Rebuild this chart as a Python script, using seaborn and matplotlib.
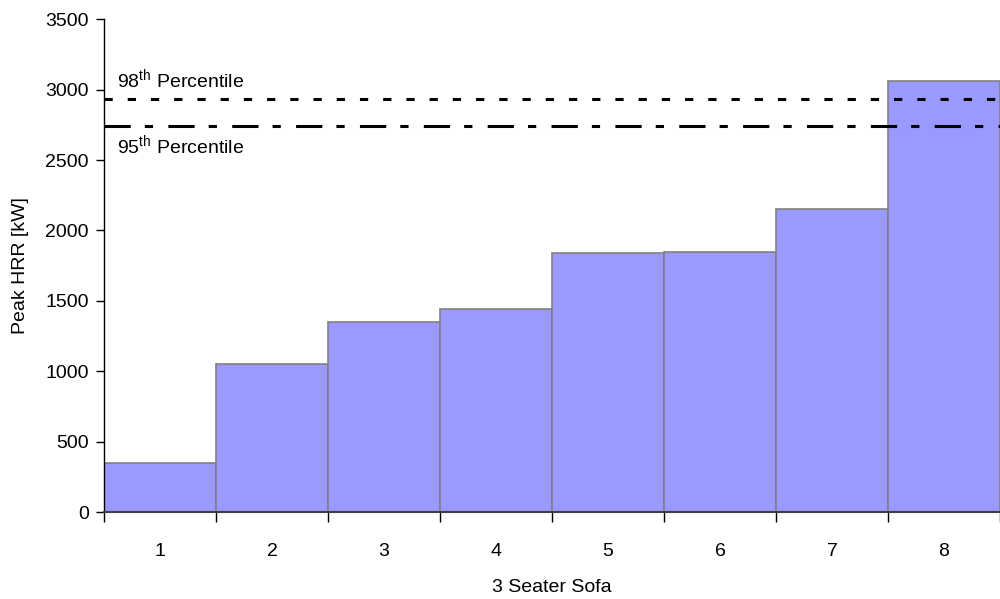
import pandas as pd
import matplotlib
matplotlib.use("Agg")
import matplotlib.pyplot as plt
import seaborn as sns
from matplotlib.font_manager import fontManager

# data
sofas = ["1", "2", "3", "4", "5", "6", "7", "8"]
peak_hrr = [350, 1050, 1350, 1440, 1840, 1845, 2150, 3060]
p98 = 2930
p95 = 2740

sns.set_style("white")
names = {f.name for f in fontManager.ttflist}
fam = "Liberation Sans Narrow" if "Liberation Sans Narrow" in names else "Liberation Sans"
plt.rcParams["font.family"] = [fam, "DejaVu Sans"]
plt.rcParams["mathtext.fontset"] = "custom"
plt.rcParams["mathtext.rm"] = fam
plt.rcParams["text.color"] = "black"
plt.rcParams["axes.labelcolor"] = "black"
plt.rcParams["xtick.color"] = "black"
plt.rcParams["ytick.color"] = "black"

fs = 14

df = pd.DataFrame({"sofa": sofas, "hrr": peak_hrr})

fig = plt.figure(figsize=(10, 5.99), dpi=100)
ax = fig.add_axes([0.104, 0.145, 0.896, 0.823])

sns.barplot(data=df, x="sofa", y="hrr", color="#9999FF", saturation=1,
            width=1.0, edgecolor="#808080", linewidth=1.2, ax=ax)

ax.axhline(p98, color="black", lw=2.2, linestyle=(0, (2.7, 4.9)), zorder=5)
ax.axhline(p95, color="black", lw=2.2, linestyle=(0, (8.6, 4.6, 2.7, 5.0)), zorder=5)
ax.text(-0.38, p98 + 50, r"98$^{\rm th}$ Percentile", fontsize=fs, va="bottom", ha="left")
ax.text(-0.38, p95 - 50, r"95$^{\rm th}$ Percentile", fontsize=fs, va="top", ha="left")

ax.set_xlim(-0.5, 7.5)
ax.set_ylim(0, 3500)
ax.set_yticks(range(0, 3501, 500))
ax.set_xticks(range(8))
ax.set_xticklabels(sofas)
ax.set_xticks([i - 0.5 for i in range(9)], minor=True)
ax.tick_params(axis="x", which="major", bottom=True, length=0, pad=22, labelsize=fs)
ax.tick_params(axis="x", which="minor", bottom=True, length=7, width=1, color="black", direction="out")
ax.tick_params(axis="y", left=True, length=6, width=1, color="black", direction="out", labelsize=fs, pad=5)

for s in ["top", "right"]:
    ax.spines[s].set_visible(False)
ax.spines["left"].set_color("black")
ax.spines["left"].set_linewidth(1)
ax.spines["bottom"].set_color("#404040")
ax.spines["bottom"].set_linewidth(1.5)

ax.set_xlabel("3 Seater Sofa", fontsize=fs, labelpad=14)
ax.set_ylabel("Peak HRR [kW]", fontsize=fs, labelpad=12)

fig.savefig("out.png", dpi=100)
